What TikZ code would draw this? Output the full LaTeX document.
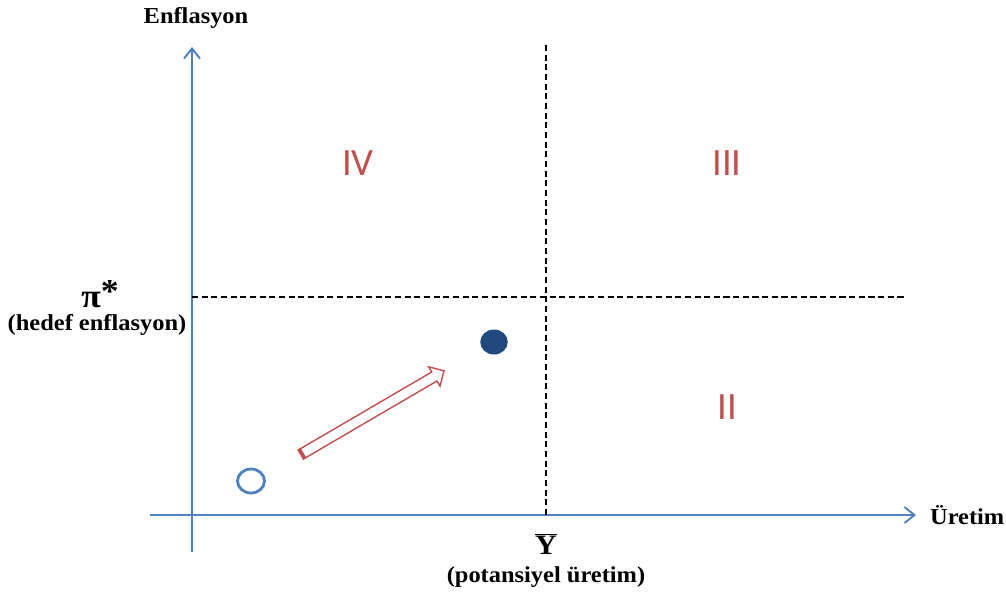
\documentclass[tikz,border=0pt]{standalone}
\usepackage{fontspec}
\setmainfont{Liberation Serif}
\newfontfamily\lblfont[FakeStretch=1.07]{Liberation Serif}
\newfontfamily\romfont{Carlito}
\definecolor{axisblue}{RGB}{79, 129, 189}
\definecolor{dotblue}{RGB}{31, 73, 125}
\definecolor{zonered}{RGB}{192, 80, 77}
\usepackage{tikz}
\usetikzlibrary{arrows.meta, shapes.geometric, shapes.arrows, positioning}

\begin{document}
\begin{tikzpicture}[x=0.02cm, y=-0.02cm,
		axis/.style={draw=axisblue, line width=1.3pt, -{Straight Barb[length=0.2cm, width=0.32cm, line width=1.1pt]}},
		guide/.style={draw=black, line width=1.1pt, dash pattern=on 3.5pt off 2pt},
		lbl/.style={font=\lblfont\fontsize{13}{15}\selectfont\bfseries, align=center, inner sep=1pt},
		zone/.style={font=\romfont\fontsize{22}{24}\selectfont, text=zonered}]
			\useasboundingbox (0,0) rectangle (1006,593);
			
			% axes
			\coordinate (ybot) at (192,552);
			\coordinate (ytop) at (192,47);
			\coordinate (xleft) at (150,515);
			\coordinate (xright) at (916,515);
			\draw[axis] (ybot) -- (ytop);
			\draw[axis] (xleft) -- (xright);
			\node[lbl] (enfl) at (196,18) {Enflasyon};
			\node[lbl, anchor=west] (uretim) at (928,515) {Üretim};
			
			% target lines
			\coordinate (pileft) at (192,297);
			\coordinate (piright) at (905,297);
			\coordinate (ybartop) at (546,45);
			\coordinate (ybarbot) at (546,515);
			\draw[guide] (pileft) -- (piright);
			\draw[guide] (ybartop) -- (ybarbot);
			
			\node[lbl, font=\lblfont\fontsize{19}{21}\selectfont\bfseries] (pistar) at (100,294) {π\raisebox{0.3ex}{*}};
			\node[lbl] (hedef) at (97,325) {(hedef enflasyon)};
			\node[lbl, font=\lblfont\fontsize{16}{18}\selectfont\bfseries] (ybar) at (546,544) {$\overline{\textbf{Y}}$};
			\node[lbl] (potans) at (546,577) {(potansiyel üretim)};
			
			% regions
			\node[zone] (iv) at (358,163) {IV};
			\node[zone] (iii) at (727,163) {III};
			\node[zone] (ii) at (727,407) {II};
			
			% points and move
			\node[ellipse, draw=axisblue, line width=1.6pt, minimum width=0.54cm, minimum height=0.48cm, inner sep=0pt] (start) at (251,481) {};
			\node[ellipse, fill=dotblue, minimum width=0.55cm, minimum height=0.5cm, inner sep=0pt] (goal) at (494,342) {};
			\node[single arrow, draw=zonered, fill=white, line width=0.8pt, rotate=30.3,
				minimum height=3.28cm, inner sep=0.09cm, single arrow head extend=0.12cm] (move) at (371,413.5) {};
			\draw[zonered, line width=2.2pt] (move.before tail) -- (move.after tail);
			
		\end{tikzpicture}
\end{document}
